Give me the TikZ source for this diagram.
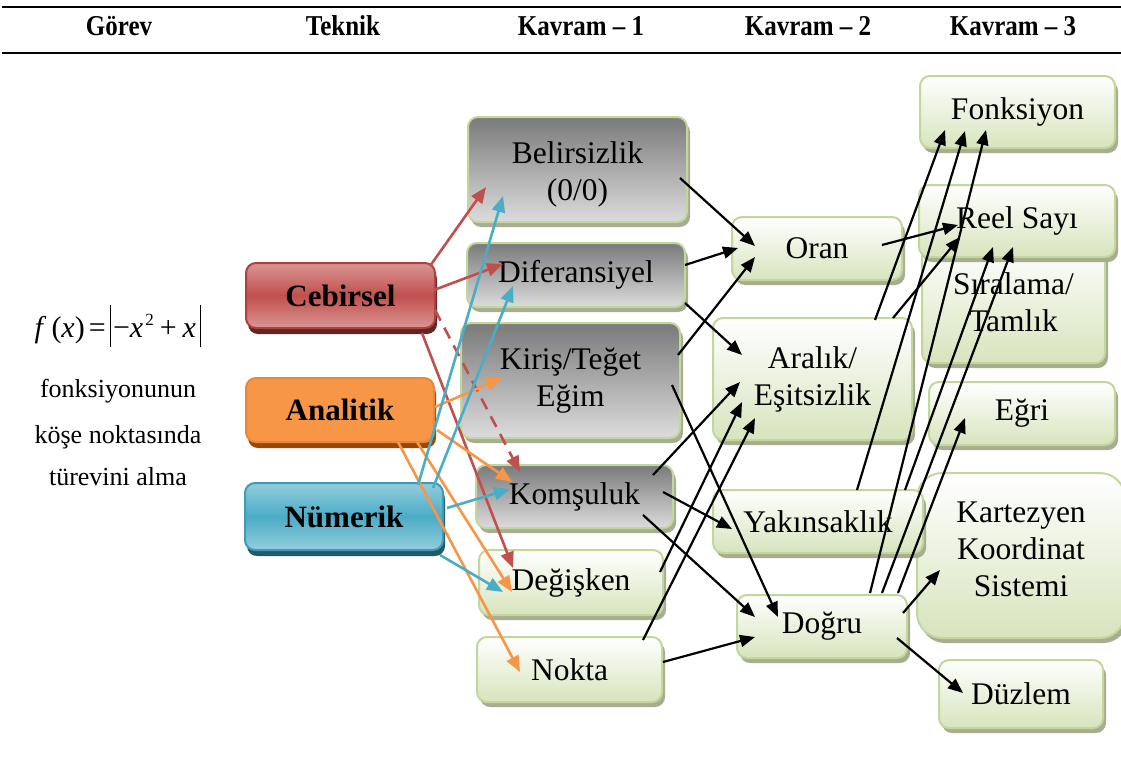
\documentclass[tikz,border=0pt]{standalone}
\usepackage{fontspec}
\setmainfont{Liberation Serif}
\usetikzlibrary{arrows.meta,shadows}
\definecolor{gborder}{HTML}{C3D69B}
\definecolor{gbot}{HTML}{D7E4BD}
\definecolor{gshadow}{RGB}{166,173,145}
\definecolor{graytop}{HTML}{7A7A7A}
\definecolor{graybot}{HTML}{DCDCDC}
\definecolor{cred}{HTML}{C0504D}
\definecolor{credlt}{HTML}{D99694}
\definecolor{credbd}{HTML}{B0403D}
\definecolor{credsh}{HTML}{632523}
\definecolor{corg}{HTML}{F79646}
\definecolor{corgbd}{HTML}{E8863A}
\definecolor{corgsh}{HTML}{984807}
\definecolor{cblue}{HTML}{4BACC6}
\definecolor{cbluelt}{HTML}{93CDDD}
\definecolor{cbluebd}{HTML}{3F9AB3}
\definecolor{cbluesh}{HTML}{215968}
\tikzset{
  box/.style={rounded corners=10pt, line width=2pt, draw=gborder, align=center, inner sep=0pt,
    font=\fontsize{31.5}{37}\selectfont,
    general shadow={fill=gshadow, shadow xshift=3pt, shadow yshift=-5pt}},
  greenbox/.style={box, top color=white, bottom color=gbot},
  graybox/.style={box, top color=graytop, bottom color=graybot},
  techbox/.style={rounded corners=10pt, line width=2pt, align=center, inner sep=0pt,
    font=\fontsize{31}{37}\selectfont\bfseries},
  cebbox/.style={techbox, draw=credbd, top color=credlt, bottom color=credlt, middle color=cred,
    general shadow={fill=credsh, shadow xshift=2pt, shadow yshift=-6pt}},
  anabox/.style={techbox, draw=corgbd, fill=corg,
    general shadow={fill=corgsh, shadow xshift=2pt, shadow yshift=-6pt}},
  numbox/.style={techbox, draw=cbluebd, top color=cbluelt, bottom color=cbluelt, middle color=cblue,
    general shadow={fill=cbluesh, shadow xshift=2pt, shadow yshift=-6pt}},
  head/.style={font=\fontsize{25}{30}\selectfont\bfseries},
  lefttxt/.style={font=\fontsize{26}{30}\selectfont, anchor=base},
  arr/.style={line width=2.2pt, -{Triangle[length=15pt,width=12pt]}},
  carr/.style={line width=2.6pt, -{Triangle[length=16pt,width=13pt]}},
  redarr/.style={carr, draw=cred},
  orgarr/.style={carr, draw=corg},
  bluearr/.style={carr, draw=cblue},
  rule/.style={line width=2.5pt}
}
\newcommand{\hd}[1]{\scalebox{1}[1.15]{#1}}
\newcommand{\absbar}{\rule[-10pt]{1.3pt}{42pt}}
\begin{document}
\begin{tikzpicture}[x=1pt,y=-1pt]
\useasboundingbox (0,0) rectangle (1121,760);
% header
\coordinate (tl) at (2,7); \coordinate (tr) at (1121,7);
\coordinate (bl) at (2,53); \coordinate (br) at (1121,53);
\draw[rule] (tl) -- (tr);
\draw[rule] (bl) -- (br);
\node[head] (h1) at (119,26) {\hd{Görev}};
\node[head] (h2) at (343,26) {\hd{Teknik}};
\node[head] (h3) at (581,26) {\hd{Kavram – 1}};
\node[head] (h4) at (808,26) {\hd{Kavram – 2}};
\node[head] (h5) at (1013,26) {\hd{Kavram – 3}};
% task
\node[font=\fontsize{30}{34}\selectfont, inner sep=0pt] (form) at (118,326)
  {\textit{f}\hspace{5pt}(\textit{x})\hspace{4pt}=\hspace{4pt}\absbar\hspace{2pt}−\textit{x}\hspace{2pt}\raisebox{12pt}{\fontsize{17}{17}\selectfont 2}\hspace{6pt}+\hspace{6pt}\textit{x}\hspace{4pt}\absbar};
\node[lefttxt] (t1) at (118,397) {fonksiyonunun};
\node[lefttxt] (t2) at (118,443) {köşe noktasında};
\node[lefttxt] (t3) at (118,485) {türevini alma};
% technique
\node[cebbox, minimum width=189pt, minimum height=65pt] (ceb) at (340.5,295.5) {Cebirsel};
\node[anabox, minimum width=188pt, minimum height=64pt] (ana) at (340,410) {Analitik};
\node[numbox, minimum width=198pt, minimum height=67pt] (num) at (344,516.5) {Nümerik};
% concept 1
\node[graybox, minimum width=219pt, minimum height=105pt] (bel) at (577.5,169.5) {\rule{0pt}{32pt}Belirsizlik\\(0/0)};
\node[graybox, minimum width=218pt, minimum height=64pt] (dif) at (576,275) {Diferansiyel};
\node[graybox, minimum width=219pt, minimum height=115pt] (kir) at (570.5,380.5) {Kiriş/Teğet\\Eğim};
\node[graybox, minimum width=197pt, minimum height=63pt] (kom) at (574.5,496.5) {Komşuluk};
\node[greenbox, minimum width=184pt, minimum height=65pt] (deg) at (571,582.5) {Değişken};
\node[greenbox, minimum width=185pt, minimum height=65pt] (nok) at (569.5,669.5) {Nokta};
% concept 3 (drawn early for overlaps)
\node[greenbox, minimum width=195pt, minimum height=72pt] (fon) at (1017.5,112) {Fonksiyon};
\node[greenbox, minimum width=183pt, minimum height=121pt] (sir) at (1013.5,302.5) {Sıralama/\\Tamlık};
\node[greenbox, minimum width=196pt, minimum height=72pt] (ree) at (1017,221) {Reel Sayı};
\node[greenbox, minimum width=186pt, minimum height=63pt] (egr) at (1022,413.5) {Eğri};
\node[greenbox, rounded corners=25pt, minimum width=208pt, minimum height=165pt] (kar) at (1021,555.5) {Kartezyen\\Koordinat\\Sistemi\rule[-12pt]{0pt}{12pt}};
\node[greenbox, minimum width=164pt, minimum height=68pt] (duz) at (1021,694) {Düzlem};
% concept 2
\node[greenbox, minimum width=170pt, minimum height=63pt] (ora) at (817,248.5) {Oran};
\node[greenbox, minimum width=199pt, minimum height=122pt] (ara) at (812.5,379) {Aralık/\\Eşitsizlik};
\node[greenbox, minimum width=210pt, minimum height=63pt] (yak) at (818,521.5) {Yakınsaklık};
\node[greenbox, minimum width=170pt, minimum height=63pt] (dog) at (822,626.5) {Doğru};
% black arrows
\draw[arr] ([shift={(102.5,8.5)}]bel.center) -- ([shift={(-62,-2.5)}]ora.center);
\draw[arr] ([shift={(109,-10)}]dif.center) -- ([shift={(-79,-0.5)}]ora.center);
\draw[arr] ([shift={(109,28)}]dif.center) -- ([shift={(-70.5,-24)}]ara.center);
\draw[arr] ([shift={(107.5,-25.5)}]kir.center) -- ([shift={(-62,8.5)}]ora.center);
\draw[arr] ([shift={(101.5,4.5)}]kir.center) -- ([shift={(-44,-9.5)}]dog.center);
\draw[arr] ([shift={(78.5,-21.5)}]kom.center) -- ([shift={(-72.5,3)}]ara.center);
\draw[arr] ([shift={(88.5,-4.5)}]kom.center) -- ([shift={(-86,7.5)}]yak.center);
\draw[arr] ([shift={(68.5,18.5)}]kom.center) -- ([shift={(-67,-9.5)}]dog.center);
\draw[arr] ([shift={(89,-10.5)}]deg.center) -- ([shift={(-70.5,23)}]ara.center);
\draw[arr] ([shift={(73.5,-29.5)}]nok.center) -- ([shift={(-57.5,39)}]ara.center);
\draw[arr] ([shift={(93.5,-7.5)}]nok.center) -- ([shift={(-67,10.5)}]dog.center);
\draw[arr] ([shift={(65,-3.5)}]ora.center) -- ([shift={(-59,4)}]ree.center);
\draw[arr] ([shift={(62.5,-59)}]ara.center) -- ([shift={(-72.5,18)}]fon.center);
\draw[arr] ([shift={(80.5,-61)}]ara.center) -- ([shift={(-57,16)}]ree.center);
\draw[arr] ([shift={(39,-31.5)}]yak.center) -- ([shift={(-52.5,19)}]fon.center);
\draw[arr] ([shift={(87,-31.5)}]yak.center) -- ([shift={(-24,26)}]ree.center);
\draw[arr] ([shift={(48,-33.5)}]dog.center) -- ([shift={(-31.5,18)}]fon.center);
\draw[arr] ([shift={(60,-33.5)}]dog.center) -- ([shift={(-4,26)}]ree.center);
\draw[arr] ([shift={(76,-33.5)}]dog.center) -- ([shift={(-57,4.5)}]egr.center);
\draw[arr] ([shift={(81,-13.5)}]dog.center) -- ([shift={(-81,14.5)}]kar.center);
\draw[arr] ([shift={(75,11.5)}]dog.center) -- ([shift={(-58,-1)}]duz.center);
% coloured arrows
\draw[redarr] ([shift={(89.5,-29.5)}]ceb.center) -- ([shift={(-91.5,17.5)}]bel.center);
\draw[redarr] ([shift={(93.5,-5.5)}]ceb.center) -- ([shift={(-73,-11)}]dif.center);
\draw[redarr, dash pattern=on 12pt off 8pt] ([shift={(94.5,14.5)}]ceb.center) -- ([shift={(-54.5,-24.5)}]kom.center);
\draw[redarr] ([shift={(81.5,37.5)}]ceb.center) -- ([shift={(-58,-14.5)}]deg.center);
\draw[orgarr] ([shift={(95,-3)}]ana.center) -- ([shift={(-68.5,-2.5)}]kir.center);
\draw[orgarr] ([shift={(97,20)}]ana.center) -- ([shift={(-62.5,-14.5)}]kom.center);
\draw[orgarr] ([shift={(77,32)}]ana.center) -- ([shift={(-59,9.5)}]deg.center);
\draw[orgarr] ([shift={(58,32)}]ana.center) -- ([shift={(-49.5,2.5)}]nok.center);
\draw[bluearr] ([shift={(74,-31.5)}]num.center) -- ([shift={(-74.5,26.5)}]bel.center);
\draw[bluearr] ([shift={(89,-28.5)}]num.center) -- ([shift={(-63,11)}]dif.center);
\draw[bluearr] ([shift={(103,-8.5)}]num.center) -- ([shift={(-64.5,-7.5)}]kom.center);
\draw[bluearr] ([shift={(96,38.5)}]num.center) -- ([shift={(-68,9.5)}]deg.center);
\end{tikzpicture}
\end{document}
